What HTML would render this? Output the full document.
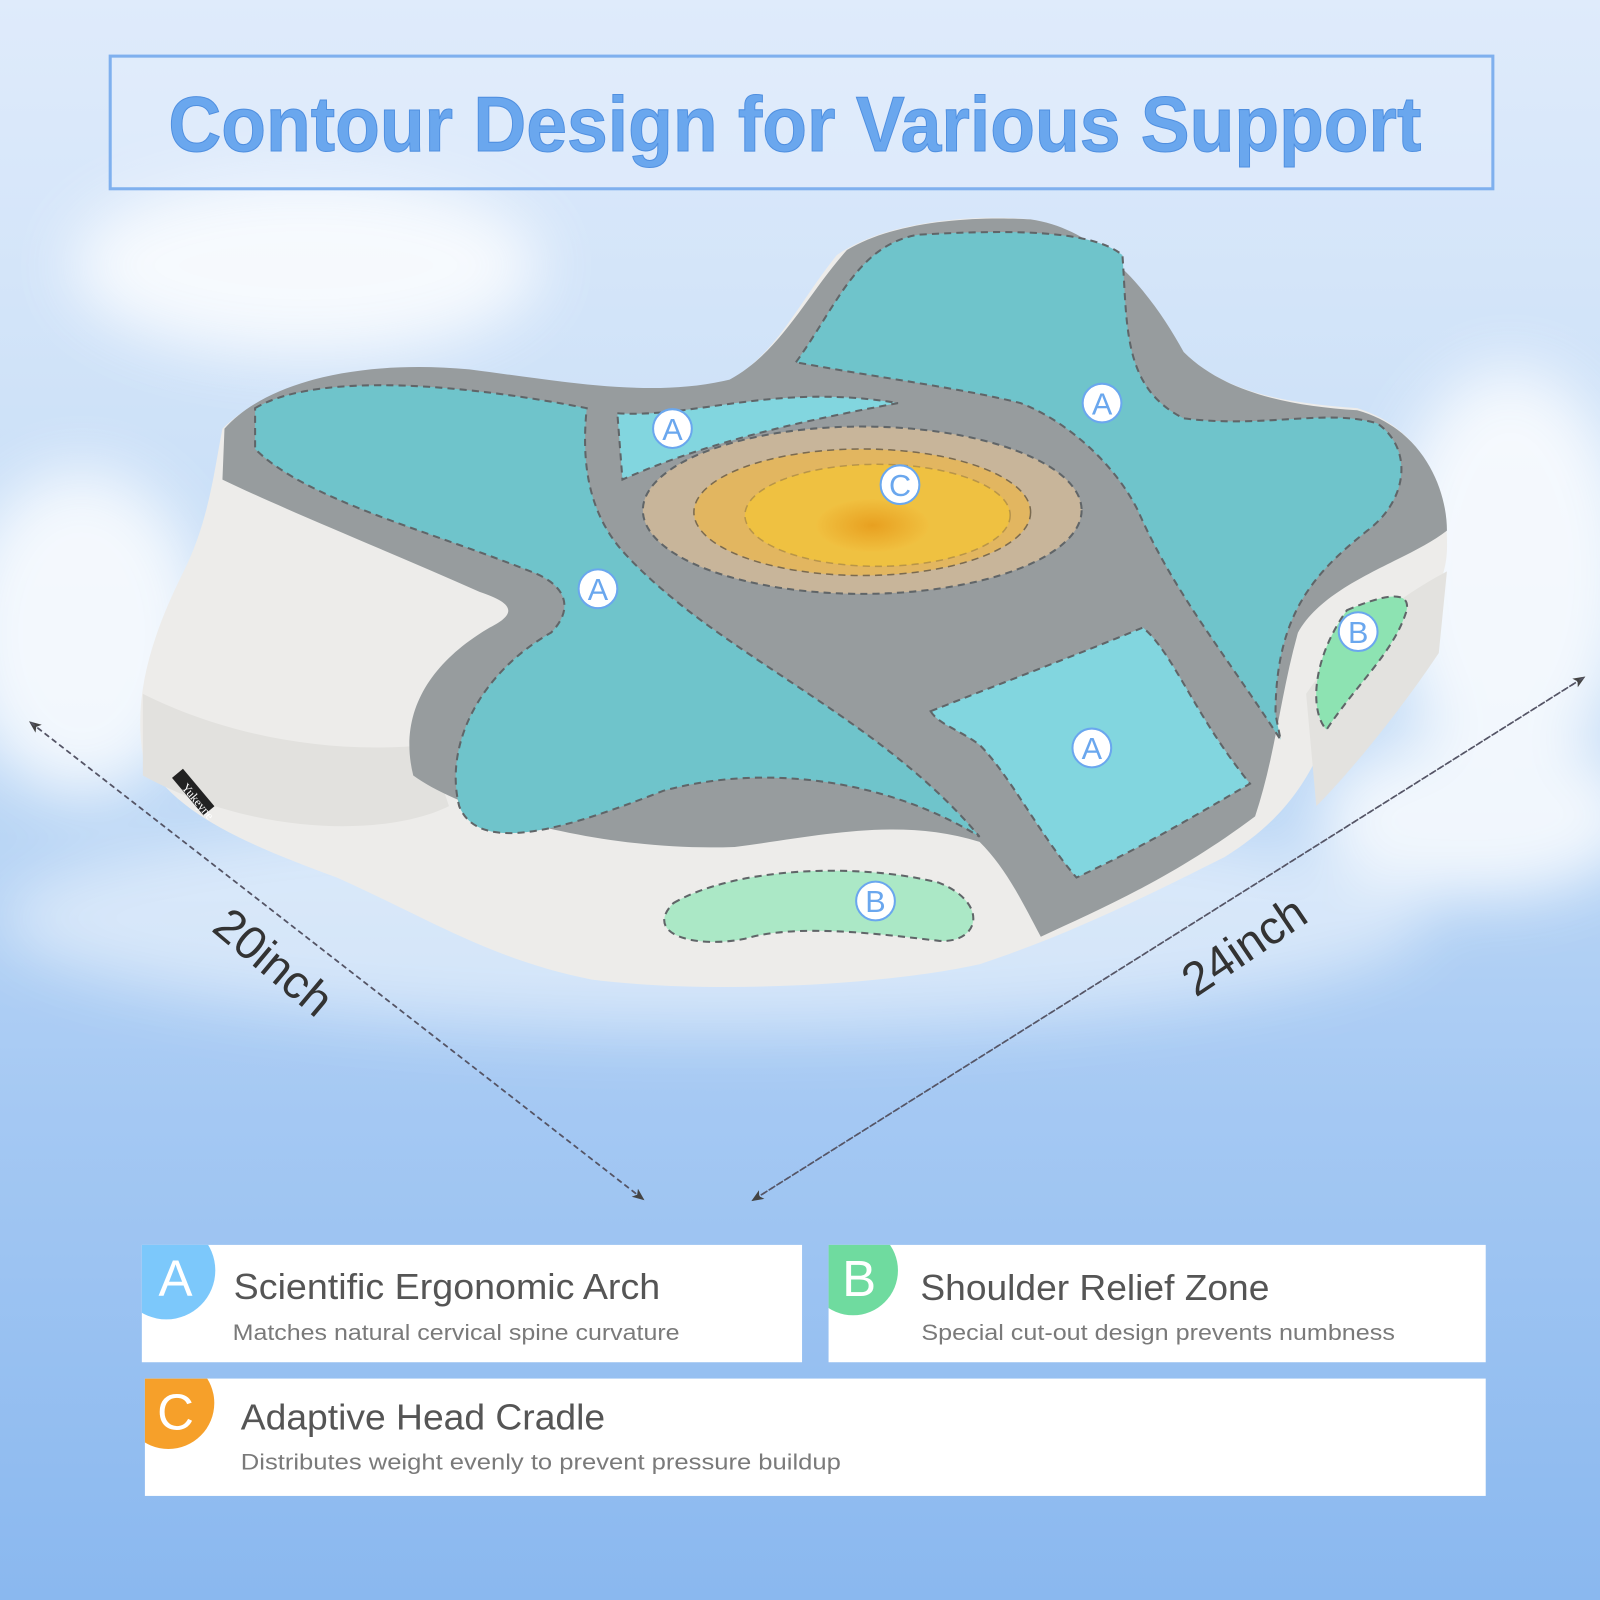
<!DOCTYPE html>
<html><head><meta charset="utf-8"><style>
html,body{margin:0;padding:0;width:1600px;height:1600px;overflow:hidden}
svg{display:block}
</style></head><body>
<svg width="1600" height="1600" viewBox="0 0 1568 1568" xmlns="http://www.w3.org/2000/svg" font-family="'Liberation Sans', 'DejaVu Sans', sans-serif">
<defs>
<linearGradient id="bg" x1="0" y1="0" x2="0" y2="1">
<stop offset="0" stop-color="#dfebfb"/><stop offset="0.45" stop-color="#c2dbf6"/><stop offset="0.7" stop-color="#a4c8f3"/><stop offset="1" stop-color="#8ab8ef"/></linearGradient>
<filter id="blur" x="-50%" y="-50%" width="200%" height="200%"><feGaussianBlur stdDeviation="30"/></filter>
<radialGradient id="hole" cx="0.5" cy="0.5" r="0.5"><stop offset="0" stop-color="#e8a020"/><stop offset="1" stop-color="#f0c040"/></radialGradient>
<clipPath id="ca"><rect x="139" y="1220" width="647" height="115"/></clipPath>
<clipPath id="cb"><rect x="812" y="1220" width="644" height="115"/></clipPath>
<clipPath id="cc"><rect x="142" y="1351" width="1314" height="115"/></clipPath>
<marker id="ar" markerWidth="12" markerHeight="12" refX="10" refY="5" orient="auto" markerUnits="userSpaceOnUse"><path d="M0,0 L12,5 L0,10 L3,5z" fill="#444"/></marker>
</defs>
<rect width="1568" height="1568" fill="url(#bg)"/>
<g filter="url(#blur)" fill="#fff" opacity="0.8">
<ellipse cx="300" cy="260" rx="230" ry="90"/>
<ellipse cx="80" cy="620" rx="120" ry="160"/>
<ellipse cx="1480" cy="560" rx="120" ry="200"/>
<ellipse cx="1450" cy="800" rx="160" ry="80"/>
<ellipse cx="700" cy="900" rx="700" ry="110" opacity="0.6"/>
</g>
<rect x="108" y="55" width="1355" height="130" fill="#e4eefb" fill-opacity="0.5" stroke="#7fb0ee" stroke-width="3"/>
<text x="165" y="148" textLength="1228" lengthAdjust="spacingAndGlyphs" font-size="76" font-weight="bold" fill="#6aa7ee" stroke="#4f8fe0" stroke-width="1">Contour Design for Various Support</text>

<!-- pillow body -->
<path d="M218,420 C260,380 330,355 450,368 C560,380 640,390 710,375 C760,350 780,300 820,250 C870,215 960,210 1010,215 C1080,225 1130,300 1160,345 C1200,385 1260,395 1330,400 C1395,420 1420,480 1418,540 C1415,600 1360,630 1320,680 C1290,740 1280,790 1200,840 C1120,880 1050,915 960,945 C870,965 700,975 580,960 C480,940 420,900 330,860 C250,830 170,800 140,740 C130,680 150,620 180,560 C205,510 210,460 218,420Z" fill="#edecea"/>
<path d="M140,680 C220,720 320,740 420,730 L440,790 C380,820 250,820 140,760Z" fill="#e2e1de"/>
<path d="M1280,680 C1320,620 1380,580 1418,560 L1410,640 C1370,700 1320,760 1290,790Z" fill="#e3e2df"/>
<!-- gray top -->
<path d="M220,420 C260,375 350,352 460,362 C560,375 640,390 715,372 C765,345 790,290 830,245 C880,215 960,212 1010,215 C1080,225 1130,290 1160,345 C1200,385 1265,398 1330,402 C1395,420 1418,480 1418,520 C1380,550 1300,570 1272,620 C1255,680 1250,740 1230,800 C1150,860 1080,890 1020,918 C1000,880 985,850 960,825 C880,800 800,820 720,830 C600,835 460,800 405,760 C390,700 420,650 480,615 C510,600 500,590 470,580 C380,540 280,500 218,470Z" fill="#979c9e"/>
<g fill="#6fc4cb" stroke="#606568" stroke-width="2" stroke-dasharray="7,5">
<path d="M250,400 C300,370 420,370 575,400 C570,450 575,500 610,540 C700,640 860,700 960,820 C880,770 760,745 650,775 C560,810 470,840 450,790 C435,730 470,660 540,620 C560,600 560,575 520,560 C420,520 300,490 250,440Z"/>
<path d="M780,355 C820,300 840,240 900,230 C990,225 1070,225 1100,250 C1105,320 1100,380 1160,410 C1240,420 1300,400 1350,415 C1385,440 1380,490 1340,520 C1290,560 1250,600 1250,700 L1255,725 C1200,640 1150,580 1115,500 C1090,450 1040,410 1000,395 C940,380 860,370 780,355Z"/>
</g>
<g fill="#82d6df" stroke="#606568" stroke-width="2" stroke-dasharray="7,5">
<path d="M605,405 C680,410 760,375 880,395 C800,410 700,430 610,470 Z"/>
<path d="M912,697 C980,670 1060,640 1120,615 C1150,640 1170,700 1225,768 C1170,800 1120,830 1055,860 C1020,820 990,760 960,730 C940,715 920,710 912,697Z"/>
</g>
<ellipse cx="845" cy="500" rx="215" ry="82" fill="#c8b59a" stroke="#606568" stroke-width="2" stroke-dasharray="7,5"/>
<ellipse cx="845" cy="502" rx="165" ry="62" fill="#e2b660" stroke="#7a6a50" stroke-width="1.5" stroke-dasharray="7,5"/>
<ellipse cx="860" cy="505" rx="130" ry="50" fill="#efc141" stroke="#8a7040" stroke-width="1.5" stroke-dasharray="7,5" stroke-opacity="0.5"/>
<ellipse cx="855" cy="515" rx="55" ry="26" fill="url(#hole)"/>
<g fill="#abe8c6" stroke="#606568" stroke-width="2" stroke-dasharray="7,5">
<path d="M660,885 C720,850 840,845 920,865 C970,885 960,925 920,922 C860,915 780,905 730,920 C680,930 630,915 660,885Z"/>
<path d="M1320,598 C1350,585 1385,575 1378,600 C1365,640 1330,670 1300,715 C1285,700 1283,650 1320,598Z" fill="#8de3b2"/>
</g>
<rect x="165" y="770" width="48" height="14" fill="#222" transform="rotate(50 190 777)"/>
<text x="168" y="788" font-size="12" fill="#fff" font-family="'Liberation Serif',serif" transform="rotate(50 190 790)">Yukeyne</text>
<g font-size="30" fill="#6aa7ee" text-anchor="middle" stroke-width="2">
<g><circle cx="659" cy="420" r="19" fill="#fff" stroke="#6aa7ee"/><text x="659" y="431">A</text></g>
<g><circle cx="1080" cy="395" r="19" fill="#fff" stroke="#6aa7ee"/><text x="1080" y="406">A</text></g>
<g><circle cx="586" cy="577" r="19" fill="#fff" stroke="#6aa7ee"/><text x="586" y="588">A</text></g>
<g><circle cx="1070" cy="733" r="19" fill="#fff" stroke="#6aa7ee"/><text x="1070" y="744">A</text></g>
<g><circle cx="882" cy="475" r="19" fill="#fff" stroke="#6aa7ee"/><text x="882" y="486">C</text></g>
<g><circle cx="858" cy="883" r="19" fill="#fff" stroke="#6aa7ee"/><text x="858" y="894">B</text></g>
<g><circle cx="1331" cy="619" r="19" fill="#fff" stroke="#6aa7ee"/><text x="1331" y="630">B</text></g>
</g>
<g stroke="#556" stroke-width="1.6" stroke-dasharray="5,4" fill="none">
<line x1="630" y1="1175" x2="30" y2="708" marker-end="url(#ar)"/>
<line x1="30" y1="708" x2="630" y2="1175" marker-end="url(#ar)"/>
<line x1="738" y1="1176" x2="1552" y2="664" marker-end="url(#ar)"/>
<line x1="1552" y1="664" x2="738" y2="1176" marker-end="url(#ar)"/>
</g>
<text x="258" y="955" font-size="46" fill="#333" text-anchor="middle" transform="rotate(40 258 955)">20inch</text>
<text x="1228" y="940" font-size="46" fill="#333" text-anchor="middle" transform="rotate(-34 1228 940)">24inch</text>
<rect x="139" y="1220" width="647" height="115" fill="#fff"/>
<circle cx="163" cy="1245" r="48" fill="#7cc8fb" clip-path="url(#ca)"/>
<text x="172" y="1270" font-size="50" fill="#fff" text-anchor="middle">A</text>
<text x="229" y="1273" font-size="35" fill="#555" textLength="418" lengthAdjust="spacingAndGlyphs">Scientific Ergonomic Arch</text>
<text x="228" y="1313" font-size="22" fill="#7a7a7a" textLength="438" lengthAdjust="spacingAndGlyphs">Matches natural cervical spine curvature</text>
<rect x="812" y="1220" width="644" height="115" fill="#fff"/>
<circle cx="836" cy="1245" r="44" fill="#6fdb9f" clip-path="url(#cb)"/>
<text x="842" y="1270" font-size="50" fill="#fff" text-anchor="middle">B</text>
<text x="902" y="1274" font-size="35" fill="#555" textLength="342" lengthAdjust="spacingAndGlyphs">Shoulder Relief Zone</text>
<text x="903" y="1313" font-size="22" fill="#7a7a7a" textLength="464" lengthAdjust="spacingAndGlyphs">Special cut-out design prevents numbness</text>
<rect x="142" y="1351" width="1314" height="115" fill="#fff"/>
<circle cx="165" cy="1375" r="45" fill="#f6a02a" clip-path="url(#cc)"/>
<text x="172" y="1401" font-size="50" fill="#fff" text-anchor="middle">C</text>
<text x="236" y="1401" font-size="35" fill="#555" textLength="357" lengthAdjust="spacingAndGlyphs">Adaptive Head Cradle</text>
<text x="236" y="1440" font-size="22" fill="#7a7a7a" textLength="588" lengthAdjust="spacingAndGlyphs">Distributes weight evenly to prevent pressure buildup</text>
</svg>
</body></html>
